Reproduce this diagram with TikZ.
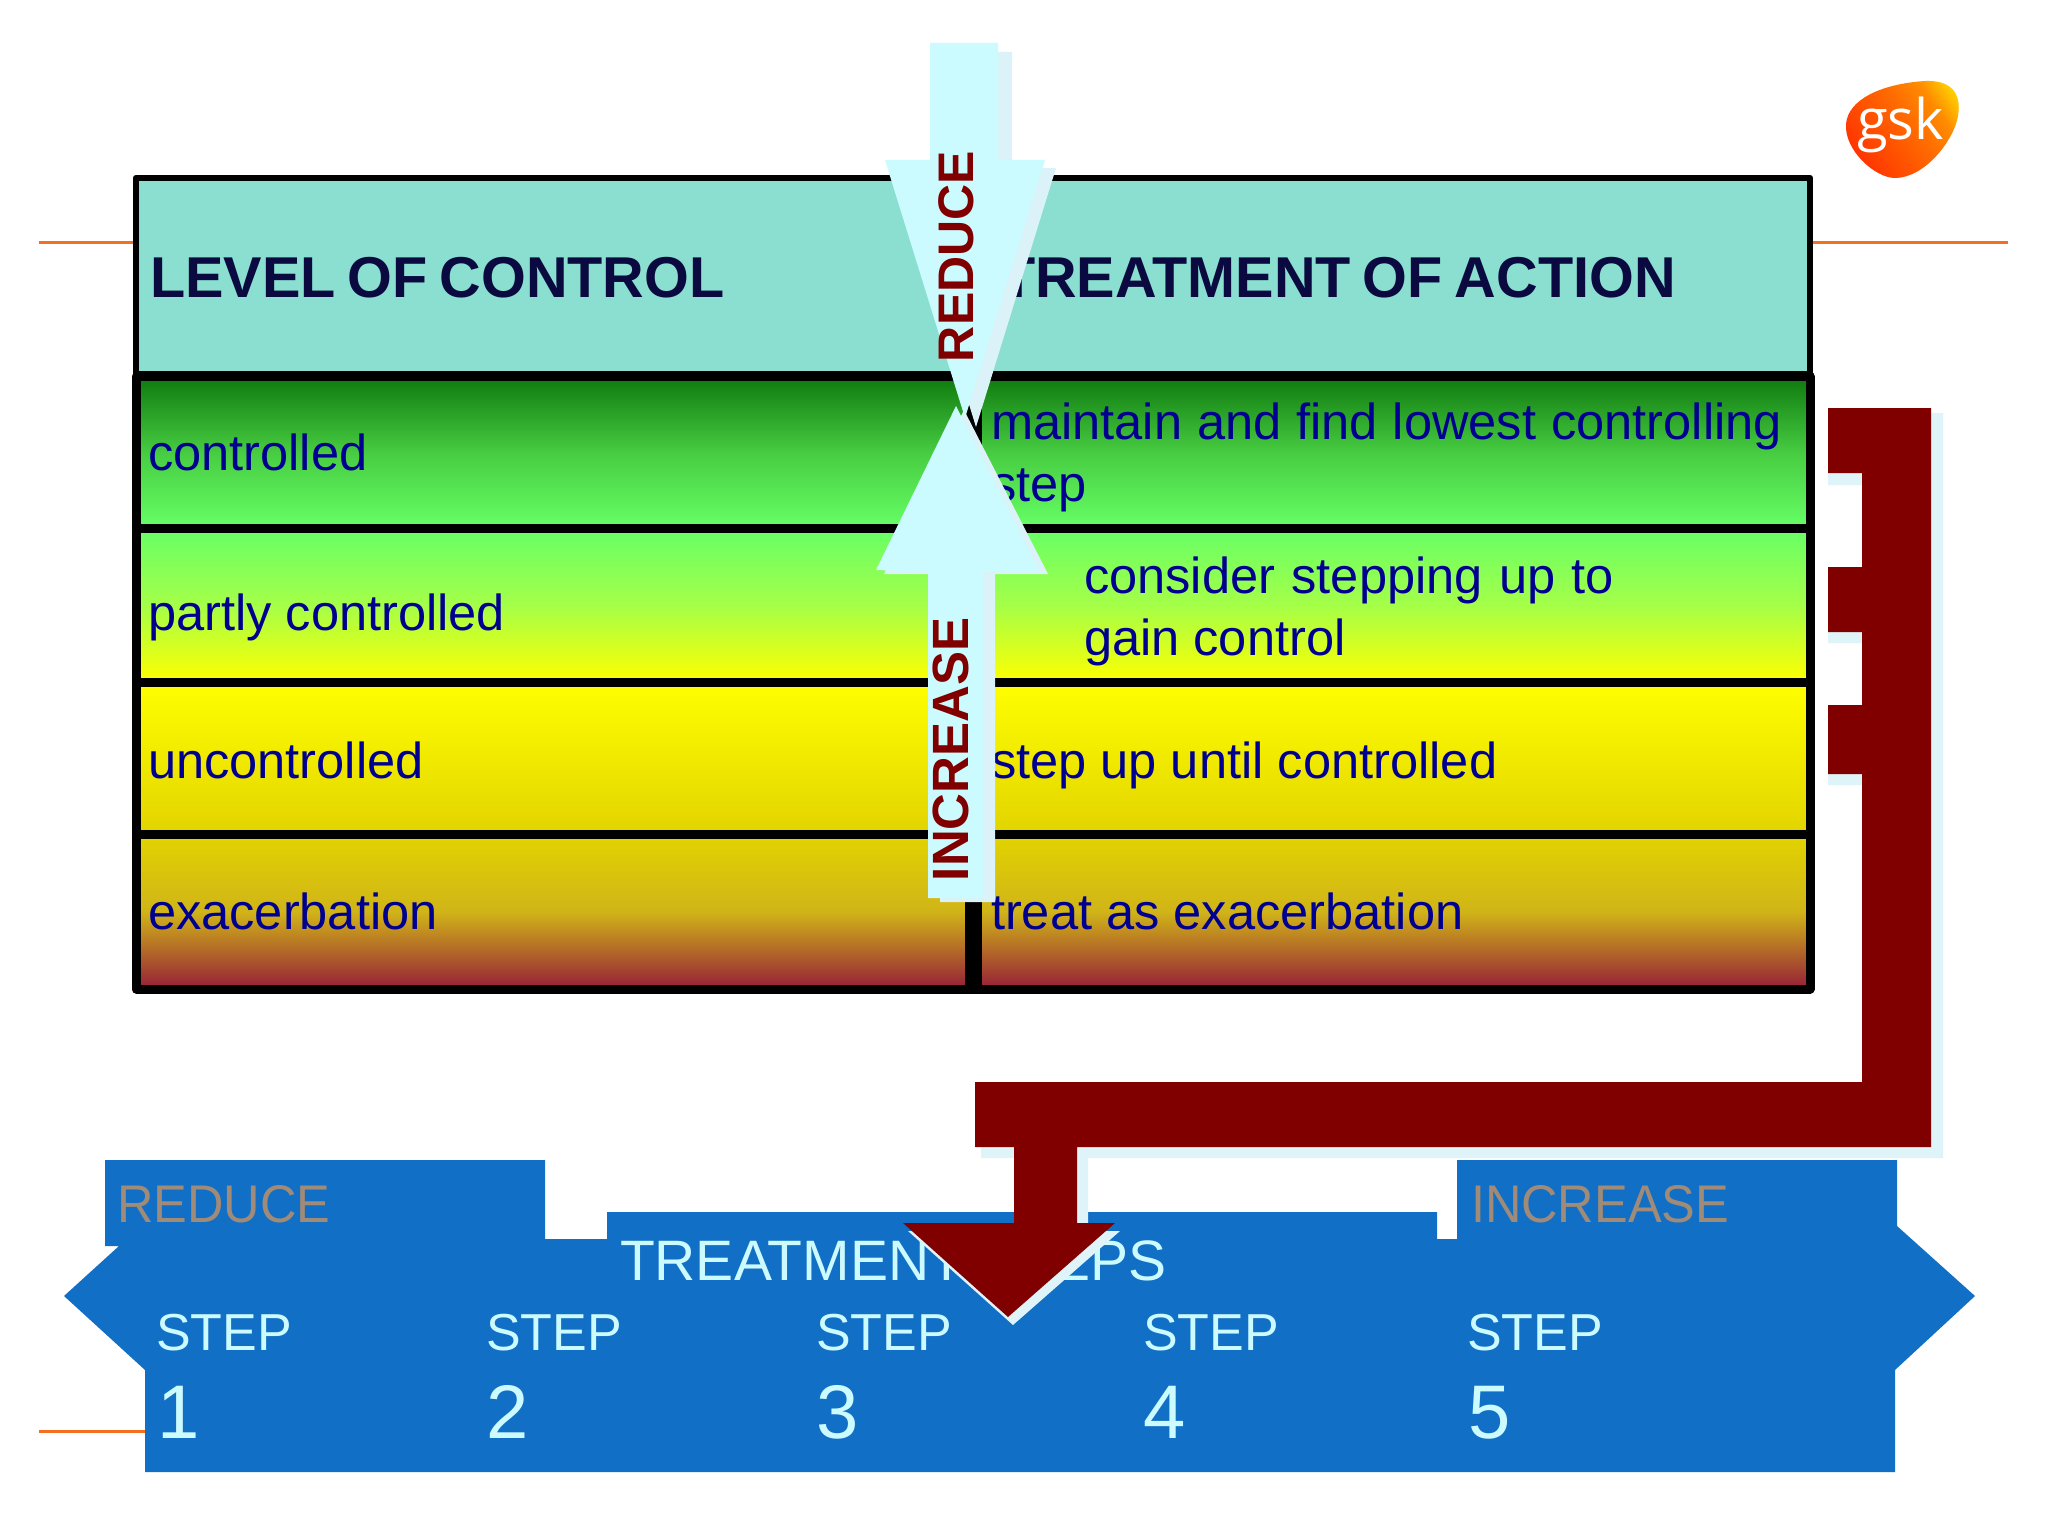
\documentclass[tikz,border=0pt]{standalone}
\usepackage{fontspec}
\setmainfont{Liberation Sans}
\newfontfamily\logofont{Open Sans}
\newfontfamily\headfont[WordSpace=0.75]{Liberation Sans}
\newfontfamily\sidefont[FakeStretch=0.953]{Liberation Sans}
\definecolor{bluetxt}{HTML}{000090}
\definecolor{navy}{HTML}{0A0A40}
\definecolor{maroon}{HTML}{800000}
\definecolor{pale}{HTML}{CCFBFF}
\definecolor{paleshadow}{HTML}{DAF2F8}
\definecolor{brshadow}{HTML}{DFF4F8}
\definecolor{headfill}{HTML}{8ADFD0}
\definecolor{band}{HTML}{126FC6}
\definecolor{tan}{HTML}{A08A78}
\definecolor{orangeline}{HTML}{F47020}
\definecolor{rowA}{RGB}{16,124,16}
\definecolor{rowAm}{RGB}{72,205,66}
\definecolor{rowB}{RGB}{102,255,102}
\definecolor{rowBm}{RGB}{165,255,72}
\definecolor{rowC}{RGB}{226,212,0}
\definecolor{rowDm}{RGB}{208,180,24}
\definecolor{rowD}{RGB}{150,30,56}
\pgfdeclarehorizontalshading{gskshade}{100bp}{color(0bp)=(orange!0!red!80!yellow);color(25bp)=(orange!0!red!80!yellow);color(55bp)=(orange!85!red);color(68bp)=(orange!90!yellow);color(78bp)=(orange!40!yellow);color(100bp)=(orange!40!yellow)}
\tikzset{
  txt/.style={anchor=base west,inner sep=0pt,outer sep=0pt},
  head/.style={txt,text=navy,font=\fontsize{57.6}{60}\selectfont\headfont\bfseries},
  cell/.style={txt,text=bluetxt,font=\fontsize{50.6}{54}\selectfont},
  vlabel/.style={txt,text=maroon,rotate=90,font=\fontsize{#1}{#1}\selectfont\bfseries},
  steptxt/.style={txt,text=pale,font=\fontsize{52}{54}\selectfont},
  numtxt/.style={txt,text=pale,font=\fontsize{76}{80}\selectfont},
  sidetxt/.style={txt,text=tan,font=\fontsize{53}{53}\selectfont\sidefont},
  rule/.style={draw=orangeline,line width=3pt},
  grid/.style={draw=black,line width=9pt,line join=round},
}
\begin{document}
\begin{tikzpicture}[x=1pt,y=-1pt]
\useasboundingbox (0,0) rectangle (2048,1536);
\fill[white] (0,0) rectangle (2048,1536);
% orange rules
\coordinate (ra) at (39,242); \coordinate (rb) at (136,242);
\coordinate (rc) at (1810,242); \coordinate (rd) at (2008,242);
\coordinate (re) at (39,1431); \coordinate (rf) at (145,1431);
\draw[rule] (ra) -- (rb);
\draw[rule] (rc) -- (rd);
\draw[rule] (re) -- (rf);
% table
\fill[headfill] (136,178) rectangle (1810,374);
\shade[top color=rowA,bottom color=rowB,middle color=rowAm] (136,379) rectangle (1810,528);
\shade[top color=rowB,bottom color=yellow,middle color=rowBm] (136,528) rectangle (1810,682);
\shade[top color=yellow,bottom color=rowC] (136,682) rectangle (1810,834);
\shade[top color=rowC,bottom color=rowD,middle color=rowDm] (136,834) rectangle (1810,989);
\draw[draw=black,line width=6.5pt,line join=round] (136,178) rectangle (1810,374);
\draw[grid] (136,376) rectangle (1810,989);
\draw[grid] (136,528) -- (1810,528);
\draw[grid] (136,682) -- (1810,682);
\draw[grid] (136,834) -- (1810,834);
\fill[black] (965,379) rectangle (982,989);
% table text
\node[head] (h1) at (150,297) {LEVEL OF CONTROL};
\node[head] (h2) at (1000,297) {TREATMENT OF ACTION};
\node[cell] (l1) at (148,470) {controlled};
\node[cell] (l2) at (148,630) {partly controlled};
\node[cell] (l3) at (148,778) {uncontrolled};
\node[cell] (l4) at (148,929) {exacerbation};
\node[cell] (r1) at (991,439) {\makebox[791pt][s]{maintain and find lowest controlling}};
\node[cell] (r1b) at (991,501) {step};
\node[cell] (r2) at (1084,593) {\makebox[530pt][s]{consider stepping up to}};
\node[cell] (r2b) at (1084,655) {gain control};
\node[cell] (r3) at (991,778) {step up until controlled};
\node[cell] (r4) at (991,929) {treat as exacerbation};
% down arrow
\fill[paleshadow] (941,52) -- (1012,52) -- (1012,168) -- (1056,168) -- (976,427) -- (896,168) -- (941,168) -- cycle;
\fill[pale] (930,43) -- (998,43) -- (998,160) -- (1045,160) -- (965,418) -- (885,160) -- (930,160) -- cycle;
% up arrow
\fill[paleshadow] (940,902) -- (940,574) -- (884,574) -- (964,410) -- (1048,574) -- (995,574) -- (995,902) -- cycle;
\fill[pale] (928,898) -- (928,572) -- (876,570) -- (956,406) -- (1040,572) -- (983,572) -- (983,898) -- cycle;
\node[vlabel=50] (vr) at (973,362) {REDUCE};
\node[vlabel=51] (vi) at (968,881) {INCREASE};
% bottom band
\fill[band] (105,1160) -- (545,1160) -- (545,1239) -- (607,1239) -- (607,1212) -- (1437,1212) -- (1437,1239) -- (1457,1239) -- (1457,1160) -- (1897,1160) -- (1897,1226) -- (1975,1296) -- (1895,1370) -- (1895,1472) -- (145,1472) -- (145,1370) -- (64,1296) -- (119,1246) -- (105,1246) -- cycle;
\node[sidetxt] (sr) at (117,1222) {REDUCE};
\node[sidetxt] (si) at (1471,1222) {INCREASE};
\node[txt,text=pale,font=\fontsize{57}{60}\selectfont] (ts) at (620,1280) {TREATMENT STEPS};
\node[steptxt] (s1) at (156,1350) {STEP};
\node[steptxt] (s2) at (486,1350) {STEP};
\node[steptxt] (s3) at (816,1350) {STEP};
\node[steptxt] (s4) at (1143,1350) {STEP};
\node[steptxt] (s5) at (1467,1350) {STEP};
\node[numtxt] (n1) at (157,1438) {1};
\node[numtxt] (n2) at (486,1438) {2};
\node[numtxt] (n3) at (816,1438) {3};
\node[numtxt] (n4) at (1143,1438) {4};
\node[numtxt] (n5) at (1468,1438) {5};
% maroon bracket with shadow
\fill[brshadow] (1900,413) -- (1943,413) -- (1943,1158) -- (1088,1158) -- (1088,1223) -- (1025,1223) -- (1025,1158) -- (981,1158) -- (981,1093) -- (1873,1093) -- (1873,785) -- (1828,785) -- (1828,716) -- (1873,716) -- (1873,643) -- (1828,643) -- (1828,578) -- (1873,578) -- (1873,485) -- (1828,485) -- (1828,440) -- (1900,440) -- cycle;
\fill[brshadow] (908,1231) -- (1120,1231) -- (1013,1325) -- cycle;
\fill[maroon] (1828,408) -- (1931,408) -- (1931,1147) -- (1077,1147) -- (1077,1223) -- (1115,1223) -- (1008,1317) -- (903,1223) -- (1014,1223) -- (1014,1147) -- (975,1147) -- (975,1082) -- (1862,1082) -- (1862,774) -- (1828,774) -- (1828,705) -- (1862,705) -- (1862,632) -- (1828,632) -- (1828,567) -- (1862,567) -- (1862,473) -- (1828,473) -- cycle;
% logo
\shade[shading=gskshade,shading angle=35]
 (1846,124) .. controls (1848,100) and (1880,84) .. (1925,81) .. controls (1950,80) and (1962,92) .. (1958,116) .. controls (1954,140) and (1925,178) .. (1895,178) .. controls (1875,178) and (1844,150) .. (1846,124) -- cycle;
\node[txt,text=white,font=\fontsize{56}{56}\selectfont\logofont] (gsk) at (1857,140) {gsk};
\end{tikzpicture}
\end{document}
